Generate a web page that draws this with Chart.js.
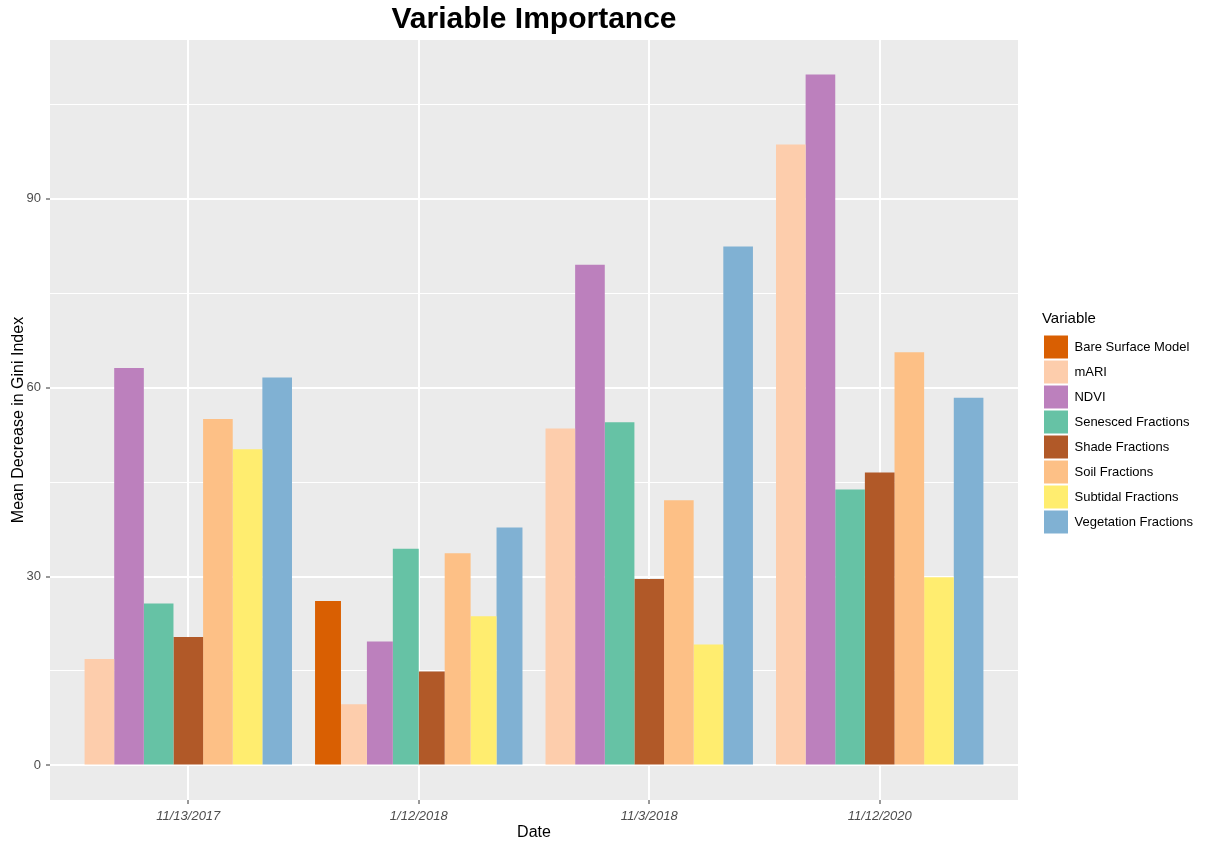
<!DOCTYPE html>
<html>
<head>
<meta charset="utf-8">
<title>Variable Importance</title>
<script src="https://cdn.jsdelivr.net/npm/chart.js@4.4.1/dist/chart.umd.min.js"></script>
<style>
  html, body { margin: 0; padding: 0; background: #ffffff; }
  #chart { display: block; }
</style>
</head>
<body>
<canvas id="chart" width="1208" height="843"></canvas>
<script>
// dates on the x axis
const dates = ['11/13/2017', '1/12/2018', '11/3/2018', '11/12/2020'];

// mean decrease in gini per variable, one value per date (null = not in model)
const bareSurface = [null, 26.1, null, null];
const mari = [16.9, 9.7, 53.5, 98.6];
const ndvi = [63.1, 19.7, 79.5, 109.7];
const senesced = [25.7, 34.4, 54.5, 43.8];
const shade = [20.4, 14.9, 29.6, 46.5];
const soil = [55.0, 33.7, 42.1, 65.6];
const subtidal = [50.2, 23.7, 19.2, 29.9];
const vegetation = [61.6, 37.8, 82.4, 58.4];

const yTicks = [0, 15, 30, 45, 60, 75, 90, 105];
const yLabelled = [0, 30, 60, 90];

const variables = [
  { name: 'Bare Surface Model', values: bareSurface, color: '#D95F02' },
  { name: 'mARI', values: mari, color: '#FDCDAC' },
  { name: 'NDVI', values: ndvi, color: '#BC80BD' },
  { name: 'Senesced Fractions', values: senesced, color: '#66C2A5' },
  { name: 'Shade Fractions', values: shade, color: '#B15928' },
  { name: 'Soil Fractions', values: soil, color: '#FDC086' },
  { name: 'Subtidal Fractions', values: subtidal, color: '#FFED6F' },
  { name: 'Vegetation Fractions', values: vegetation, color: '#80B1D3' }
];

Chart.defaults.font.family = "'Liberation Sans', Arial, sans-serif";

// grey ggplot panel behind the plot area
const panelBg = {
  id: 'panelBg',
  beforeDraw(chart) {
    const { ctx, chartArea: a } = chart;
    ctx.save();
    ctx.fillStyle = '#ffffff';
    ctx.fillRect(0, 0, chart.width, chart.height);
    ctx.fillStyle = '#EBEBEB';
    ctx.fillRect(a.left, a.top, a.right - a.left, a.bottom - a.top);
    ctx.restore();
  }
};

const ctx = document.getElementById('chart');
new Chart(ctx, {
  type: 'bar',
  data: {
    datasets: variables.map(v => ({
      label: v.name,
      data: v.values.map((y, i) => ({ x: i, y: y })),
      backgroundColor: v.color,
      borderWidth: 0,
      skipNull: true,
      categoryPercentage: 0.9,
      barPercentage: 1,
      xAxisID: 'x',
      yAxisID: 'y'
    }))
  },
  options: {
    responsive: false,
    devicePixelRatio: 1,
    animation: false,
    layout: { padding: { left: 0, right: 5, top: 0, bottom: 0 } },
    plugins: {
      title: {
        display: true,
        text: 'Variable Importance',
        fullSize: false,
        color: '#000000',
        font: { size: 30, weight: 'bold' },
        padding: { top: 2, bottom: 2 }
      },
      legend: {
        position: 'right',
        align: 'center',
        title: {
          display: true,
          text: 'Variable',
          position: 'start',
          color: '#000000',
          font: { size: 15 },
          padding: { top: 4, bottom: 4 }
        },
        labels: {
          boxWidth: 24,
          boxHeight: 23,
          padding: 2,
          color: '#000000',
          font: { size: 13 }
        }
      },
      tooltip: { enabled: false }
    },
    scales: {
      x: {
        type: 'linear',
        position: 'bottom',
        min: -0.6,
        max: 3.6,
        offset: false,
        afterBuildTicks: s => { s.ticks = dates.map((d, i) => ({ value: i })); },
        afterFit: s => { s.height = 43; },
        ticks: {
          autoSkip: false,
          maxRotation: 0,
          padding: 5,
          color: '#4D4D4D',
          font: { size: 13, style: 'italic' },
          callback: v => dates[v]
        },
        grid: { offset: false, color: '#ffffff', lineWidth: 2, tickLength: 4, tickWidth: 1, tickColor: '#333333' },
        border: { display: false },
        title: { display: true, text: 'Date', color: '#000000', font: { size: 16 }, padding: { top: 0, bottom: 1 } }
      },
      y: {
        type: 'linear',
        position: 'left',
        min: -5.485,
        max: 115.185,
        afterBuildTicks: s => { s.ticks = yTicks.map(v => ({ value: v })); },
        afterFit: s => { s.width = 50; },
        ticks: {
          padding: 5,
          color: '#4D4D4D',
          font: { size: 13 },
          callback: v => (yLabelled.includes(v) ? v : '')
        },
        grid: {
          color: '#ffffff',
          lineWidth: c => (yLabelled.includes(c.tick.value) ? 2 : 1),
          tickLength: 4,
          tickWidth: 1,
          tickColor: c => (yLabelled.includes(c.tick.value) ? '#333333' : 'rgba(0,0,0,0)')
        },
        border: { display: false },
        title: { display: true, text: 'Mean Decrease in Gini Index', color: '#000000', font: { size: 16 }, padding: { top: 9, bottom: 0 } }
      },
      // empty axis to keep the gap between the panel and the legend
      gap: {
        type: 'linear',
        position: 'right',
        display: true,
        afterFit: s => { s.width = 24; },
        ticks: { display: false },
        grid: { display: false, drawTicks: false },
        border: { display: false }
      }
    }
  },
  plugins: [panelBg]
});
</script>
</body>
</html>
